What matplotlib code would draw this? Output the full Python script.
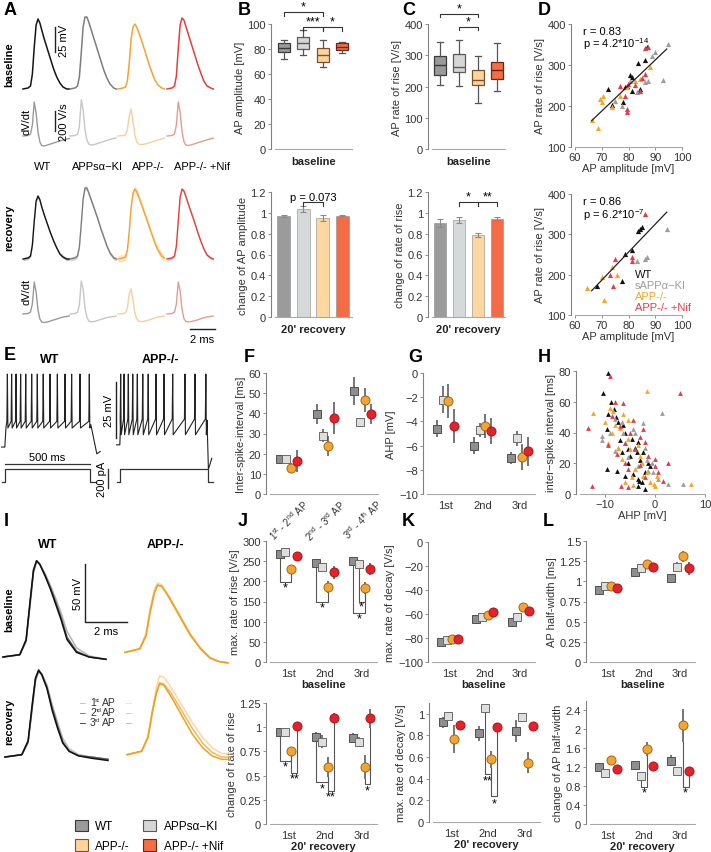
import numpy as np
import matplotlib
matplotlib.use("Agg")
import matplotlib.pyplot as plt
from matplotlib.patches import Patch
from matplotlib.ticker import FuncFormatter

plt.rcParams['font.family'] = ['Liberation Sans', 'DejaVu Sans']
plt.rcParams['font.size'] = 8
plt.rcParams['mathtext.default'] = 'regular'

W, H = 711, 853

# ---------------- data ----------------
genotypes = ['WT', 'APPsα−KI', 'APP-/-', 'APP-/- +Nif']

# A: example APs (ms, mV) and dV/dt (V/s)
ap_t = [0, 0.4, 0.6, 0.75, 0.9, 1.05, 1.2, 1.35, 1.5, 1.7, 1.95, 2.2, 2.45, 2.7, 2.95, 3.2, 3.5, 3.7]
ap_base_wt = [0, 1, 3, 15, 42, 64, 70, 66, 59, 50, 40, 30, 20, 12, 6, 2, 0, 0]
ap_base_sa = [0, 1, 3, 12, 36, 62, 72, 72, 67, 59, 49, 39, 29, 19, 11, 5, 1, 0]
ap_base_ko = [0, 1, 2, 8, 26, 50, 62, 65, 62, 55, 46, 36, 26, 17, 9, 4, 1, 0]
ap_base_nif = [0, 1, 3, 13, 40, 64, 71, 69, 63, 55, 45, 35, 25, 16, 8, 3, 1, 0]
dv_base_wt = [0, 5, 20, 110, 340, 230, 40, -60, -95, -100, -90, -80, -70, -60, -50, -40, -30, -25]
dv_base_sa = [0, 5, 18, 95, 360, 260, 60, -40, -80, -90, -85, -75, -65, -55, -45, -35, -25, -20]
dv_base_ko = [0, 4, 12, 60, 200, 270, 150, 10, -60, -85, -85, -80, -70, -60, -50, -40, -30, -20]
dv_base_nif = [0, 5, 20, 110, 340, 240, 50, -55, -90, -95, -88, -78, -68, -58, -48, -38, -28, -22]
ap_rec_wt = [0, 1, 3, 14, 38, 58, 63, 59, 52, 44, 35, 26, 18, 11, 5, 2, 0, 0]
ap_rec_sa = [0, 1, 3, 12, 35, 60, 71, 71, 66, 59, 50, 41, 31, 22, 13, 6, 1, 0]
ap_rec_ko = [0, 1, 2, 9, 28, 52, 66, 70, 67, 61, 52, 43, 34, 25, 16, 9, 3, 1]
ap_rec_nif = [0, 1, 3, 13, 38, 62, 70, 68, 63, 55, 46, 37, 27, 18, 10, 4, 1, 0]
dv_rec_wt = [0, 5, 20, 100, 320, 220, 40, -50, -80, -85, -80, -70, -60, -50, -40, -30, -25, -20]
dv_rec_sa = [0, 5, 18, 90, 330, 250, 60, -30, -70, -80, -75, -65, -55, -45, -35, -30, -25, -20]
dv_rec_ko = [0, 4, 12, 60, 200, 250, 140, 10, -50, -75, -75, -70, -60, -50, -40, -30, -25, -20]
dv_rec_nif = [0, 5, 20, 100, 320, 230, 50, -45, -75, -80, -75, -68, -58, -48, -38, -30, -25, -20]
rec_band = [1.5, 2.0, 3.5, 1.5]

# B, C: box stats [whislo, q1, med, q3, whishi]
amp_box = [[72, 78, 81, 85, 87], [75, 80, 85, 90, 95], [66, 70, 75, 81, 87], [77, 79, 82, 85, 86]]
amp_change = [0.97, 1.04, 0.95, 0.97]
amp_change_err = [0.01, 0.03, 0.03, 0.005]
rise_box = [[205, 238, 268, 298, 343], [202, 245, 262, 305, 350], [148, 205, 222, 253, 298], [187, 223, 252, 280, 340]]
rise_change = [0.90, 0.93, 0.79, 0.94]
rise_change_err = [0.04, 0.03, 0.02, 0.02]

# D: amplitude vs rate of rise
d1_amp = [[72.5, 78.7, 80.6, 81.2, 81.2, 73.7, 77.8, 84.3, 86.2, 83.7, 87.0, 79.3],
          [94.9, 89.9, 88.7, 93.0, 86.2, 83.0, 75.0, 77.4, 80.6, 87.4],
          [66.2, 68.7, 70.0, 70.6, 69.3, 73.7, 77.0, 88.0, 82.4, 79.3, 84.3],
          [86.2, 87.4, 79.3, 79.3, 78.7, 79.9, 84.3, 86.2, 85.0, 82.4, 77.0]]
d1_rise = [[241, 246, 276, 270, 237, 202, 209, 241, 311, 306, 343, 250],
           [351, 331, 323, 263, 258, 235, 213, 201, 262, 262],
           [167, 146, 209, 224, 217, 197, 225, 294, 262, 246, 266],
           [341, 343, 193, 185, 225, 254, 237, 278, 268, 251, 248]]
d1_fit_x = [66.2, 94.3]
d1_fit_y = [164, 339]
d2_amp = [[84.3, 84.9, 83.7, 81.2, 78.7, 77.4, 68.1],
          [94.3, 86.2, 86.8, 83.0],
          [64.4, 70.8, 70.0, 73.7, 75.6],
          [86.2, 81.2, 81.2, 75.0, 73.1, 74.3]]
d2_rise = [[313, 317, 309, 260, 251, 185, 173],
           [312, 239, 243, 235],
           [167, 136, 193, 218, 198],
           [350, 243, 235, 239, 199, 173]]
d2_fit_x = [66.2, 94.3]
d2_fit_y = [160, 355]

# E: spike times (ms)
e_wt_spikes = [14, 39, 65, 92, 122, 157, 190, 225, 265, 308, 353, 392, 441, 496]
e_ko_spikes = [4, 24, 49, 75, 102, 134, 166, 212, 259, 310, 382, 441, 505]
e_step_pa = 140

# F, G, J, K, L: mean and error per genotype for 3 categories
isi_mean = [[17.4, 39.7, 51.2], [17.4, 29.0, 35.7], [13.0, 23.8, 46.8], [16.5, 37.6, 39.7]]
isi_err = [[2, 5, 7], [2, 3, 1.5], [2.5, 5, 6], [5.5, 8, 5]]
ahp_mean = [[-4.6, -6.0, -7.0], [-2.2, -4.7, -5.4], [-2.3, -4.35, -6.95], [-4.4, -4.8, -6.45]]
ahp_err = [[0.7, 0.7, 0.5], [1.1, 0.6, 0.6], [1.4, 1.0, 1.1], [1.4, 1.1, 1.2]]
h_ahp = [[-9.4, -10.4, -7.9, -8.2, -9.4, -7.4, -9.7, -6.1, -4.7, -3.4, -5.4, -6.7, -3.7, -3.1, -5.4, -9.7,
          -7.7, -4.4, -2.1, -6.1, -3.4, -1.4, -2.4, -3.2, -2.6, -8.8, -6.5, -5.0, -1.0, -3.5, -2.0, -7.0, -4.0],
         [1.3, -6.7, -8.1, -2.4, -4.4, -10.7, -10.7, -8.1, -6.1, -4.1, -1.7, -0.7, -0.4, -5.4, -6.4, 2.6, 5.5,
          -9.0, -2.0, -1.5, -3.5, 0.5, -7.5],
         [-1.7, -12.4, -9.1, -8.4, -10.1, -7.1, -8.7, -5.4, -3.4, -7.4, -5.1, -6.7, -2.7, -4.1, -1.7, 0.3, -4.7,
          -9.4, -6.1, -4.5, -0.3, 0.0, 7.1, -6.5, -3.0, -1.0, -2.5, -8.0, -5.5],
         [-9.1, 4.9, -13.4, -8.1, -6.4, -8.7, -7.1, -5.1, -2.4, -2.1, -4.1, -1.4, -3.1, -5.4, -0.1, 0.6, -6.1,
          -7.7, -12.6, -6.8, 1.6, -5.5, -4.5, -3.0, 0.0, -2.0, -6.0, 2.5, -9.5]]
h_isi = [[79, 66, 50, 55, 52, 47, 42, 40, 36, 34, 29, 27, 27, 22, 20, 16, 15, 13, 14, 12, 10, 20, 27, 8.4, 7.5,
          60, 45, 25, 18, 5, 3, 35, 30],
         [53, 47, 49, 46, 42, 38, 35, 28, 33, 40, 22, 20, 14, 24, 40, 6.5, 6.5, 40, 30, 15, 18, 10, 30],
         [67, 53, 56, 54, 47, 43, 40, 48, 32, 30, 29, 23, 20, 16, 14, 12, 11, 33, 8, 5.8, 6.5, 5, 6.5,
          52, 25, 8, 12, 45, 36],
         [77, 66, 43, 60, 59, 51, 44, 40, 42, 34, 29, 25, 19, 16, 23, 14, 20, 26, 5, 5, 8.4, 4.3, 48, 37, 18,
          11, 33, 20, 32]]

# I: APs 1st/2nd/3rd (ms, mV)
i_wt_t = [0, 0.8, 1.1, 1.3, 1.45, 1.6, 1.75, 2.0, 2.25, 2.5, 2.75, 3.05, 3.5, 4.1, 4.9]
i_wt_base = [[0, 2, 13, 46, 72, 82, 80, 72, 62, 51, 39, 22, 8, 1, -2],
             [0, 2, 14, 48, 74, 83, 80, 71, 60, 48, 35, 17, 5, 0, -2],
             [0, 2, 15, 50, 75, 83, 80, 70, 59, 46, 33, 15, 4, 0, -2]]
i_wt_rec = [[0, 2, 12, 42, 65, 74, 72, 62, 45, 30, 16, 7, 2, 0, -2],
            [0, 2, 13, 44, 67, 74, 71, 60, 42, 27, 13, 5, 1, 0, -2],
            [0, 2, 14, 46, 68, 75, 71, 59, 40, 25, 12, 5, 1, -1, -3]]
i_ko_t = [0, 0.7, 1.0, 1.2, 1.4, 1.55, 1.75, 2.1, 2.6, 3.1, 3.6, 4.05, 4.5, 4.9]
i_ko_base = [[4, 7, 20, 42, 58, 64, 62, 52, 36, 20, 8, 0, -4, -5],
             [4, 7, 19, 40, 56, 62, 61, 52, 36, 20, 7, -1, -4, -5],
             [4, 7, 18, 39, 55, 62, 61, 51, 35, 19, 7, -1, -4, -5]]
i_ko_rec = [[2, 5, 18, 40, 60, 70, 69, 60, 45, 30, 17, 8, 3, 3],
            [2, 5, 17, 38, 56, 64, 63, 55, 40, 25, 12, 4, 0, 0],
            [2, 5, 17, 38, 55, 63, 62, 52, 36, 20, 8, 1, -2, -2]]
i_ap_num = ['1', '2', '3']
i_ap_suffix = ['st', 'nd', 'rd']

rise_mean = [[269, 246, 250], [272, 236, 242], [231, 186, 183], [262, 222, 231]]
rise_err = [[5, 8, 5], [5, 6, 8], [10, 15, 15], [6, 15, 15]]
rise_rec = [[0.95, 0.90, 0.89], [0.95, 0.85, 0.85], [0.75, 0.59, 0.59], [1.01, 1.10, 1.09]]
rise_rec_err = [[0.03, 0.05, 0.05], [0.03, 0.07, 0.05], [0.05, 0.10, 0.12], [0.03, 0.05, 0.10]]
decay_mean = [[-83.7, -64, -67], [-82, -62.5, -62.5], [-81, -61, -54], [-80.5, -58, -57.5]]
decay_err = [[2, 2, 3], [2, 2, 3], [3, 3, 3], [3, 3, 3]]
decay_rec = [[0.92, 0.82, 0.84], [0.98, 1.05, 0.97], [0.77, 0.58, 0.55], [0.90, 0.88, 0.89]]
decay_rec_err = [[0.05, 0.07, 0.10], [0.02, 0.03, 0.03], [0.13, 0.08, 0.10], [0.03, 0.03, 0.03]]
hw_mean = [[0.89, 1.11, 1.04], [0.94, 1.17, 1.18], [0.94, 1.22, 1.31], [0.92, 1.18, 1.16]]
hw_err = [[0.03, 0.04, 0.04], [0.03, 0.05, 0.06], [0.04, 0.05, 0.07], [0.03, 0.05, 0.08]]
hw_rec = [[1.21, 1.25, 1.34], [1.08, 1.02, 1.13], [1.36, 1.59, 2.09], [1.17, 1.23, 1.11]]
hw_rec_err = [[0.06, 0.05, 0.12], [0.04, 0.08, 0.05], [0.08, 0.15, 0.35], [0.04, 0.04, 0.05]]

# ---------------- style ----------------
trace_c = ['#151515', '#7d7d7d', '#f2a333', '#e2403a']
dv_c = ['#9a9a9a', '#c6c6c6', '#f6cf9c', '#e49c90']
box_fc = ['#9a9a9a', '#d6d6d6', '#fdd49e', '#f46d43']
box_ec = ['#3a3a3a', '#5a5a5a', '#7a5426', '#6a2616']
bar_fc = ['#9b9b9b', '#d5d9da', '#fdd6a0', '#f36b47']
sc_c = ['#111111', '#9d9d9d', '#f5a623', '#e23c4c']
mk = ['s', 's', 'o', 'o']
mfc = ['#8e8e8e', '#dedede', '#f4a531', '#e8202a']
mec = ['#505050', '#6a6a6a', '#a0651a', '#a01818']
offs = [-0.24, -0.08, 0.08, 0.24]
i_wt_c = ['#b4b4b4', '#5a5a5a', '#111111']
i_ko_c = ['#fbd7a4', '#f5b65a', '#f0a020']

fig = plt.figure(figsize=(W / 100, H / 100), dpi=100)


def px_axes(x0, y0, x1, y1):
    return fig.add_axes([x0 / W, 1 - y1 / H, (x1 - x0) / W, (y1 - y0) / H])


def trace_axes(x0, y0, x1, y1, xlim, ylim):
    ax = px_axes(x0, y0, x1, y1)
    ax.set_xlim(xlim)
    ax.set_ylim(ylim)
    ax.axis('off')
    return ax


def style(ax):
    ax.patch.set_alpha(0)
    for s in ('top', 'right'):
        ax.spines[s].set_visible(False)
    ax.spines['left'].set_color('#808080')
    ax.spines['bottom'].set_color('#a8a8a8')
    ax.spines['left'].set_position(('outward', 3))
    ax.tick_params(length=2, width=0.6, color='#808080', labelcolor='#333333', labelsize=8, pad=1.5)
    ax.yaxis.set_major_formatter(FuncFormatter(lambda v, _: f'{v:g}'.replace('-', '−')))
    ax.yaxis.label.set_color('#333333')
    ax.xaxis.label.set_color('#222222')


def top_bracket(ax, x1, x2, y, h, label, fs=9):
    ax.plot([x1, x1, x2, x2], [y - h, y, y, y - h], color='#333333', lw=0.8, clip_on=False)
    ax.text((x1 + x2) / 2, y, label, ha='center', va='bottom', fontsize=fs, clip_on=False)


def lbracket(ax, cat, ga, gb, ya, yb, ybot, label, ty):
    xa, xb = cat + offs[ga], cat + offs[gb]
    ax.plot([xa, xa, xb, xb], [ya, ybot, ybot, yb], color='#555555', lw=0.8, clip_on=False, zorder=2)
    ax.text((xa + xb) / 2, ty, label, ha='center', va='center', fontsize=9)


# ---------------- A ----------------
pxms = 12.5
starts = [23, 70, 118, 167]
a_ap_b = [ap_base_wt, ap_base_sa, ap_base_ko, ap_base_nif]
a_dv_b = [dv_base_wt, dv_base_sa, dv_base_ko, dv_base_nif]
a_ap_r = [ap_rec_wt, ap_rec_sa, ap_rec_ko, ap_rec_nif]
a_dv_r = [dv_rec_wt, dv_rec_sa, dv_rec_ko, dv_rec_nif]
xl = (0, 220 / pxms)
ax1 = trace_axes(20, 12, 240, 95, xl, (-5, 78))
ax2 = trace_axes(20, 95, 240, 155, xl, (-180, 420))
ax3 = trace_axes(20, 180, 240, 265, xl, (-5, 80))
ax4 = trace_axes(20, 268, 240, 330, xl, (-150, 470))
t = np.array(ap_t)
for g in range(4):
    t0 = (starts[g] - 20) / pxms
    ax1.plot(t + t0, a_ap_b[g], color=trace_c[g], lw=1.1)
    ax2.plot(t + t0, a_dv_b[g], color=dv_c[g], lw=1.0)
    v = np.array(a_ap_r[g])
    ax3.fill_between(t + t0, v - rec_band[g], v + rec_band[g], color=trace_c[g], alpha=0.3, lw=0)
    ax3.plot(t + t0, v, color=trace_c[g], lw=1.0)
    ax4.plot(t + t0, a_dv_r[g], color=dv_c[g], lw=1.0)
ax1.plot([2.8, 2.8], [37, 62], color='#222222', lw=1)
ax1.text(3.55, 49.5, '25 mV', rotation=90, ha='center', va='center', fontsize=8)
ax2.plot([2.8, 2.8], [50, 250], color='#222222', lw=1)
ax2.text(3.55, 150, '200 V/s', rotation=90, ha='center', va='center', fontsize=8)
ax4.plot([13.6, 15.6], [-150, -150], color='#222222', lw=1, clip_on=False)
ax4.text(14.6, -200, '2 ms', ha='center', va='top', fontsize=8)

# ---------------- B, C ----------------
def box_panel(ax, box, ylim, yticks, ylabel):
    stats = [dict(whislo=b[0], q1=b[1], med=b[2], q3=b[3], whishi=b[4], fliers=[]) for b in box]
    res = ax.bxp(stats, positions=np.arange(1, 5), widths=0.62, patch_artist=True, showfliers=False,
                 capwidths=0.3, whiskerprops=dict(color='#555555', lw=0.9),
                 capprops=dict(color='#555555', lw=0.9), medianprops=dict(lw=1.0))
    for i, b in enumerate(res['boxes']):
        b.set_facecolor(box_fc[i])
        b.set_edgecolor(box_ec[i])
        b.set_linewidth(0.9)
        res['medians'][i].set_color(box_ec[i])
    ax.set_ylim(ylim)
    ax.set_yticks(yticks)
    ax.set_xticks([])
    ax.set_ylabel(ylabel, labelpad=2)
    ax.set_xlabel('baseline', fontweight='bold', labelpad=5)
    style(ax)


def bar_panel(ax, vals, errs, ylabel):
    ax.bar(np.arange(1, 5), vals, width=0.65, color=bar_fc, edgecolor='#8a8a8a', lw=0.4)
    ax.errorbar(np.arange(1, 5), vals, yerr=errs, fmt='none', ecolor='#8a8a8a', elinewidth=0.8, capsize=2.5, capthick=0.8)
    ax.set_ylim(0, 1.2)
    ax.set_yticks(np.arange(0, 1.21, 0.2))
    ax.set_xticks([])
    ax.set_ylabel(ylabel, labelpad=2)
    ax.set_xlabel("20' recovery", fontweight='bold', labelpad=5)
    style(ax)


axB1 = px_axes(275, 25, 352, 150)
box_panel(axB1, amp_box, (0, 100), range(0, 101, 20), 'AP amplitude [mV]')
axB1.set_xlim(0.55, 4.5)
top_bracket(axB1, 1, 3, 109.6, 3, '*')
top_bracket(axB1, 2, 3, 97.6, 3, '***')
top_bracket(axB1, 3, 4, 97.6, 3, '*')

axB2 = px_axes(275, 193, 352, 318)
bar_panel(axB2, amp_change, amp_change_err, 'change of AP amplitude')
axB2.set_xlim(0.55, 4.5)
top_bracket(axB2, 2, 3, 1.10, 0.03, 'p = 0.073', fs=8)

axC1 = px_axes(432, 25, 505, 150)
box_panel(axC1, rise_box, (0, 400), range(0, 401, 100), 'AP rate of rise [V/s]')
axC1.set_xlim(0.58, 4.42)
top_bracket(axC1, 1, 3, 432, 10, '*')
top_bracket(axC1, 2, 3, 390, 10, '*')

axC2 = px_axes(432, 193, 505, 318)
bar_panel(axC2, rise_change, rise_change_err, 'change of rate of rise')
axC2.set_xlim(0.58, 4.42)
top_bracket(axC2, 2, 3, 1.10, 0.03, '*')
top_bracket(axC2, 3, 4, 1.10, 0.03, '**')

# ---------------- D ----------------
for (y0, y1, amp, rise, fx, fy) in [(25, 148, d1_amp, d1_rise, d1_fit_x, d1_fit_y),
                                    (195, 316, d2_amp, d2_rise, d2_fit_x, d2_fit_y)]:
    ax = px_axes(575, y0, 682, y1)
    for g in range(4):
        ax.scatter(amp[g], rise[g], marker='^', s=14, color=sc_c[g], lw=0, zorder=3)
    ax.plot(fx, fy, color='#222222', lw=0.9, zorder=4)
    ax.set_xlim(60, 100)
    ax.set_ylim(100, 400)
    ax.set_xticks(range(60, 101, 10))
    ax.set_yticks(range(100, 401, 100))
    ax.set_xlabel('AP amplitude [mV]', labelpad=1)
    ax.set_ylabel('AP rate of rise [V/s]', labelpad=2)
    style(ax)
    ax.xaxis.label.set_color('#333333')
    if y0 == 25:
        ax.text(63, 375, 'r = 0.83', fontsize=8)
        ax.text(63, 343, 'p = 4.2*10$^{-14}$', fontsize=8)
    else:
        ax.text(63, 375, 'r = 0.86', fontsize=8)
        ax.text(63, 341, 'p = 6.2*10$^{-7}$', fontsize=8)
        for g, yy in enumerate([201, 174, 147, 120]):
            ax.text(82.5, yy, genotypes[g] if g != 1 else 'sAPPα−KI', color=sc_c[g], fontsize=8,
                    va='center')

# ---------------- E ----------------
msp = 500 / 85
axE = trace_axes(0, 365, 215, 470, (-5 * msp, 210 * msp), (-79.8, -32.9))
axEi = trace_axes(0, 455, 215, 492, (-5 * msp, 210 * msp), (-94.5, 294))
ko_off = 115 * msp
tw = [-20, -1, 6]
vw = [-70, -70, -61]
for s in e_wt_spikes:
    tw += [s - 3, s, s + 3]
    vw += [-58.5, -37.4, -61.5]
tw += [505, 540, 560]
vw += [-60, -73, -72]
axE.plot(tw, vw, color='#222222', lw=0.8)
tk = [-20, -1, 2]
vk = [-69, -69, -62]
for s in e_ko_spikes:
    tk += [s - 3, s, s + 3]
    vk += [-57.5, -37.4, -64.5]
tk += [512, 520, 540]
vk += [-58, -80, -75]
axE.plot(np.array(tk) + ko_off, vk, color='#222222', lw=0.8)
axE.plot([111 * msp, 111 * msp], [-66, -41], color='#222222', lw=1)
axE.text(104 * msp, -53.5, '25 mV', rotation=90, ha='center', va='center', fontsize=8)
for off, tend in [(0, 500), (ko_off, 515)]:
    axEi.plot(np.array([-20, 0, 0, tend, tend, tend + 35]) + off, [0, 0, e_step_pa, e_step_pa, 0, 0],
              color='#333333', lw=0.9)
axEi.plot([0, 500], [190, 190], color='#333333', lw=0.9)
axEi.text(250, 215, '500 ms', ha='center', va='bottom', fontsize=8)
axEi.plot([103 * msp, 103 * msp], [-60, 140], color='#333333', lw=1)
axEi.text(97 * msp, 40, '200 pA', rotation=90, ha='center', va='center', fontsize=8)

# ---------------- category panels ----------------
def cat_panel(box, means, errs, ylim, yticks, ylabel, xlabel=None, xticklabels=('1st', '2nd', '3rd')):
    ax = px_axes(*box)
    x = np.arange(1, 4)
    for g in range(4):
        ax.errorbar(x + offs[g], means[g], yerr=errs[g], fmt=mk[g], ms=6.5 if mk[g] == 'o' else 6.2,
                    mfc=mfc[g], mec=mec[g], mew=0.7, ecolor='#505050', elinewidth=1.1, capsize=0,
                    zorder=3 + g, clip_on=False)
    ax.set_xlim(0.5, 3.42)
    ax.set_ylim(ylim)
    ax.set_yticks(yticks)
    ax.set_xticks(x)
    ax.set_xticklabels(xticklabels)
    ax.set_ylabel(ylabel, labelpad=2)
    if xlabel:
        ax.set_xlabel(xlabel, fontweight='bold', labelpad=1)
    style(ax)
    ax.tick_params(axis='x', length=0, pad=4)
    return ax


axF = cat_panel((270, 374, 378, 495), isi_mean, isi_err, (0, 60), range(0, 61, 10), 'Inter-spike-interval [ms]')
axF.set_xticklabels(['1$^{st}$ - 2$^{nd}$ AP', '2$^{nd}$ - 3$^{rd}$ AP', '3$^{rd}$ - 4$^{th}$ AP'],
                    rotation=45, ha='center', va='top', fontsize=7)
axF.tick_params(axis='x', pad=2)

axG = cat_panel((427, 374, 535, 495), ahp_mean, ahp_err, (-10, 0), range(-10, 1, 2), 'AHP [mV]')

axH = px_axes(580, 372, 705, 495)
for g in range(4):
    axH.scatter(h_ahp[g], h_isi[g], marker='^', s=12, color=sc_c[g], lw=0, zorder=3)
axH.set_xlim(-15, 10)
axH.set_ylim(0, 80)
axH.set_xticks([-10, 0, 10])
axH.set_yticks(range(0, 81, 20))
axH.set_xlabel('AHP [mV]', labelpad=1)
axH.set_ylabel('inter−spike interval [ms]', labelpad=2)
style(axH)
axH.xaxis.set_major_formatter(FuncFormatter(lambda v, _: f'{v:g}'.replace('-', '−')))
axH.xaxis.label.set_color('#333333')

axJ1 = cat_panel((270, 542, 377, 663), rise_mean, rise_err, (0, 300), range(0, 301, 50), 'max. rate of rise [V/s]', 'baseline')
lbracket(axJ1, 1, 0, 2, 262, 220, 198, '*', 186)
lbracket(axJ1, 2, 0, 2, 238, 172, 150, '*', 136)
lbracket(axJ1, 3, 1, 2, 234, 170, 150, '*', 137)
lbracket(axJ1, 3, 0, 2, 244, 168, 122, '*', 108)

axJ2 = cat_panel((270, 704, 377, 825), rise_rec, rise_rec_err, (0, 1.25), np.arange(0, 1.26, 0.25), 'change of rate of rise', "20' recovery")
lbracket(axJ2, 1, 0, 2, 0.92, 0.70, 0.65, '*', 0.59)
lbracket(axJ2, 1, 3, 2, 0.98, 0.70, 0.53, '**', 0.47)
lbracket(axJ2, 2, 0, 2, 0.85, 0.49, 0.43, '*', 0.37)
lbracket(axJ2, 2, 3, 2, 1.05, 0.49, 0.34, '**', 0.28)
lbracket(axJ2, 3, 3, 2, 0.99, 0.47, 0.41, '*', 0.35)

axK1 = cat_panel((432, 543, 535, 663), decay_mean, decay_err, (-100, 0), range(-100, 1, 20), 'max. rate of decay [V/s]', 'baseline')
axK2 = cat_panel((433, 704, 540, 823), decay_rec, decay_rec_err, (0, 1.1), np.arange(0, 1.01, 0.2), 'max. rate of decay [V/s]', "20' recovery")
lbracket(axK2, 2, 1, 2, 1.02, 0.50, 0.44, '**', 0.38)
lbracket(axK2, 2, 3, 2, 0.85, 0.50, 0.24, '*', 0.17)

axL1 = cat_panel((590, 542, 695, 663), hw_mean, hw_err, (0, 1.5), np.arange(0, 1.51, 0.25), 'AP half-width [ms]', 'baseline')
axL2 = cat_panel((590, 702, 695, 825), hw_rec, hw_rec_err, (0, 2.6), np.arange(0, 2.41, 0.4), 'change of AP half-width', "20' recovery")
lbracket(axL2, 2, 1, 2, 0.94, 1.44, 0.79, '*', 0.66)
lbracket(axL2, 3, 3, 2, 1.06, 1.74, 0.79, '*', 0.66)

# ---------------- I ----------------
ipx = 21.0
mvpx = 1.16
axI1 = trace_axes(0, 555, 240, 668, (0, 240 / ipx), (-(668 - 658) / mvpx, (658 - 555) / mvpx))
axI2 = trace_axes(0, 665, 240, 770, (0, 240 / ipx), (-(770 - 758) / mvpx, (758 - 665) / mvpx))
tw_i = np.array(i_wt_t) + 3 / ipx
tk_i = np.array(i_ko_t) + 125 / ipx
for k in range(3):
    axI1.plot(tw_i, i_wt_base[k], color=i_wt_c[k], lw=1.1)
    axI1.plot(tk_i, i_ko_base[k], color=i_ko_c[k], lw=1.1)
    axI2.plot(tw_i + 2 / ipx, i_wt_rec[k], color=i_wt_c[k], lw=1.1)
    axI2.plot(tk_i + 2 / ipx, i_ko_rec[k], color=i_ko_c[k], lw=1.1)
axI1.plot([85 / ipx, 85 / ipx, 127 / ipx], [(658 - 565) / mvpx, (658 - 623) / mvpx, (658 - 623) / mvpx], color='#222222', lw=1)
axI1.text(78 / ipx, (658 - 594) / mvpx, '50 mV', rotation=90, ha='center', va='center', fontsize=8)
axI1.text(106 / ipx, (658 - 627) / mvpx, '2 ms', ha='center', va='top', fontsize=8)

# ---------------- overlay texts ----------------
ov = fig.add_axes([0, 0, 1, 1])
ov.set_xlim(0, W)
ov.set_ylim(H, 0)
ov.axis('off')
for lab, x, y in [('A', 4, 10), ('B', 238, 10), ('C', 402, 10), ('D', 538, 10), ('E', 4, 355),
                  ('F', 244, 357), ('G', 408, 357), ('H', 538, 357), ('I', 4, 522), ('J', 238, 522),
                  ('K', 402, 522), ('L', 543, 522)]:
    ov.text(x, y, lab, fontsize=13, fontweight='bold', va='center', ha='left')
ov.text(9, 65, 'baseline', rotation=90, fontweight='bold', ha='center', va='center')
ov.text(26, 122, 'dV/dt', rotation=90, ha='center', va='center')
ov.text(9, 228, 'recovery', rotation=90, fontweight='bold', ha='center', va='center')
ov.text(26, 292, 'dV/dt', rotation=90, ha='center', va='center')
for g, x in enumerate([43, 97, 148, 202]):
    ov.text(x, 167, genotypes[g], ha='center', va='center', fontsize=8)
ov.text(50, 360, 'WT', fontweight='bold', ha='center', va='center', fontsize=9)
ov.text(160, 360, 'APP-/-', fontweight='bold', ha='center', va='center', fontsize=9)
ov.text(48, 545, 'WT', fontweight='bold', ha='center', va='center', fontsize=9)
ov.text(165, 545, 'APP-/-', fontweight='bold', ha='center', va='center', fontsize=9)
ov.text(9, 610, 'baseline', rotation=90, fontweight='bold', ha='center', va='center')
ov.text(9, 722, 'recovery', rotation=90, fontweight='bold', ha='center', va='center')
for k, y in enumerate([703, 713, 723]):
    ov.text(83, y, '–', color=i_wt_c[k], ha='center', va='center', fontsize=7.5)
    ov.text(90, y, i_ap_num[k], color='#333333', ha='left', va='center', fontsize=7.5)
    ov.text(94.5, y - 2.5, i_ap_suffix[k], color='#333333', ha='left', va='center', fontsize=4.5)
    ov.text(102, y, 'AP', color='#333333', ha='left', va='center', fontsize=7.5)
    ov.text(129, y, '–', color=i_ko_c[k], ha='center', va='center', fontsize=7.5)

handles = [Patch(facecolor=box_fc[i], edgecolor=box_ec[i], lw=0.8) for i in (0, 2, 1, 3)]
fig.legend(handles, [genotypes[i] for i in (0, 2, 1, 3)], ncol=2, frameon=False,
           bbox_to_anchor=(64 / W, 1 - 810 / H), loc='upper left', handlelength=1.1, handleheight=1.1,
           columnspacing=1.2, labelspacing=0.6, fontsize=8.5, handletextpad=0.6)

fig.savefig('out.png', dpi=100)
